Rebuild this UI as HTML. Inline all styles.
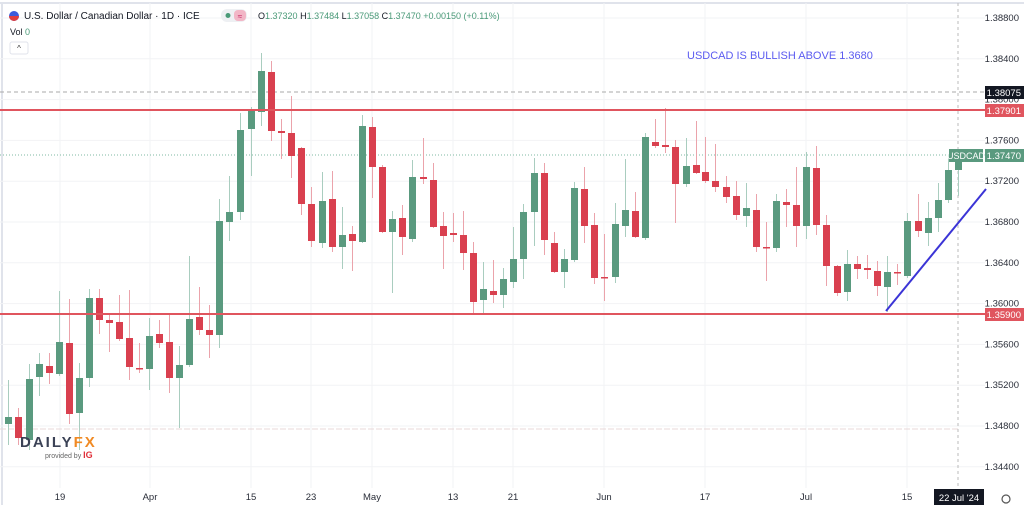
<!DOCTYPE html>
<html><head><meta charset="utf-8"><style>
html,body{margin:0;padding:0;background:#fff;}
body{width:1024px;height:505px;overflow:hidden;font-family:"Liberation Sans",sans-serif;}
</style></head><body>
<svg id="s" width="1024" height="505" xmlns="http://www.w3.org/2000/svg" font-family="Liberation Sans, sans-serif">
<rect width="1024" height="505" fill="#fff"/>
<line x1="0" y1="3" x2="1024" y2="3" stroke="#e0e3eb" stroke-width="2"/>
<line x1="2" y1="3" x2="2" y2="505" stroke="#e0e3eb" stroke-width="2"/>
<g id="grid" stroke="#f2f3f5" stroke-width="1"></g>
<g id="lbl" font-size="9.5" fill="#2a2e39"></g>
<line x1="0" y1="429" x2="960" y2="429" stroke="#e8d8d8" stroke-width="1" stroke-dasharray="6,2"/>
<line x1="0" y1="92" x2="985" y2="92" stroke="#aaa" stroke-width="1" stroke-dasharray="4,3"/>
<line x1="0" y1="155" x2="985" y2="155" stroke="#7fb9a3" stroke-width="1" stroke-dasharray="1,2"/>
<line x1="958" y1="3" x2="958" y2="490" stroke="#bbb" stroke-width="1" stroke-dasharray="3,3"/>
<g id="c"></g>
<line x1="0" y1="110" x2="985" y2="110" stroke="#e0555e" stroke-width="2"/>
<line x1="0" y1="314" x2="985" y2="314" stroke="#e0555e" stroke-width="2"/>
<line x1="886" y1="311" x2="986" y2="189" stroke="#3b34d6" stroke-width="2"/>
<text x="687" y="59" font-size="11" fill="#5b5bf0">USDCAD IS BULLISH ABOVE 1.3680</text>
<rect x="985" y="86" width="39" height="13" fill="#131722"/><text x="1021" y="96" font-size="9.5" fill="#fff" text-anchor="end">1.38075</text>
<rect x="985" y="104" width="39" height="13" fill="#e0555e"/><text x="1021" y="114" font-size="9.5" fill="#fff" text-anchor="end">1.37901</text>
<rect x="949" y="149" width="34" height="13" fill="#5a9a7f"/><text x="966" y="159" font-size="9" fill="#fff" text-anchor="middle">USDCAD</text>
<rect x="985" y="149" width="39" height="13" fill="#5a9a7f"/><text x="1021" y="159" font-size="9.5" fill="#fff" text-anchor="end">1.37470</text>
<rect x="985" y="308" width="39" height="13" fill="#e0555e"/><text x="1021" y="318" font-size="9.5" fill="#fff" text-anchor="end">1.35900</text>
<rect x="934" y="489" width="50" height="16" fill="#131722"/><text x="959" y="501" font-size="9.5" fill="#fff" text-anchor="middle">22 Jul '24</text>
<circle cx="1006" cy="499" r="4" fill="none" stroke="#555" stroke-width="1.2"/>
<circle cx="14" cy="16" r="5" fill="#3b5bdb"/><path d="M9 16 a5 5 0 0 0 10 0z" fill="#e03e3e"/>
<text x="24" y="19" font-size="10" fill="#131722">U.S. Dollar / Canadian Dollar · 1D · ICE</text>
<rect x="221" y="9" width="26" height="13" rx="6" fill="#eef0f3"/><circle cx="228" cy="15.5" r="2.5" fill="#4a9a78"/><rect x="234" y="10" width="12" height="11" rx="4" fill="#f2b6c6"/><text x="240" y="19" font-size="8" fill="#c2185b" text-anchor="middle">≈</text>
<text x="258" y="19" font-size="9" fill="#131722">O<tspan fill="#4a9a78">1.37320</tspan> H<tspan fill="#4a9a78">1.37484</tspan> L<tspan fill="#4a9a78">1.37058</tspan> C<tspan fill="#4a9a78">1.37470</tspan> <tspan fill="#4a9a78">+0.00150 (+0.11%)</tspan></text>
<text x="10" y="35" font-size="9" fill="#131722">Vol <tspan fill="#4a9a78">0</tspan></text>
<rect x="10" y="42" width="18" height="12" rx="2" fill="#fff" stroke="#e0e3eb"/><text x="19" y="51" font-size="8" fill="#333" text-anchor="middle">^</text>
<text x="20" y="447" font-size="15" font-weight="bold" fill="#3b4256" letter-spacing="2">DAILY<tspan fill="#f08a24">FX</tspan></text>
<text x="45" y="458" font-size="7" fill="#666">provided by <tspan fill="#e0303a" font-weight="bold" font-size="9">IG</tspan></text>
</svg>
<script>
var ns="http://www.w3.org/2000/svg";
function el(p,t,a){var e=document.createElementNS(ns,t);for(var k in a)e.setAttribute(k,a[k]);p.appendChild(e);return e;}
var g=document.getElementById('grid'),L=document.getElementById('lbl');
var prices=["1.38800","1.38400","1.38000","1.37600","1.37200","1.36800","1.36400","1.36000","1.35600","1.35200","1.34800","1.34400"];
prices.forEach(function(p,i){var y=18+i*40.8;el(g,'line',{x1:0,y1:y,x2:985,y2:y});
 var t=el(L,'text',{x:1019,y:y+3,'text-anchor':'end'});t.textContent=p;});
var xs=[[60,"19"],[150,"Apr"],[251,"15"],[311,"23"],[372,"May"],[453,"13"],[513,"21"],[604,"Jun"],[705,"17"],[806,"Jul"],[907,"15"]];
xs.forEach(function(a){el(g,'line',{x1:a[0],y1:3,x2:a[0],y2:488});var t=el(L,'text',{x:a[0],y:500,'text-anchor':'middle'});t.textContent=a[1];});
var C=[[8,424,417,380,445],[18,417,438,408,445],[29,440,379,364,450],[39,377,364,353,396],[49,366,373,353,384],[59,374,342,291,376],[69,343,414,299,424],[79,413,378,363,450],[89,378,298,289,387],[99,298,320,289,334],[109,320,323,315,352],[119,322,339,295,341],[129,338,367,290,380],[139,368,369,343,373],[149,369,336,318,390],[159,334,343,320,348],[169,342,378,314,393],[179,378,365,346,428],[189,365,319,256,367],[199,317,330,287,335],[209,330,335,305,358],[219,335,221,199,348],[229,222,212,176,241],[240,212,130,113,220],[251,129,110,107,176],[261,112,71,53,126],[271,72,131,61,141],[281,131,133,119,159],[291,133,156,96,178],[301,148,204,147,215],[311,204,241,187,247],[322,243,201,172,248],[332,199,247,171,252],[342,247,235,207,269],[352,234,241,226,271],[362,242,126,115,243],[372,127,167,117,198],[382,167,232,165,233],[392,232,219,211,293],[402,218,237,205,255],[412,239,177,160,242],[423,177,179,138,184],[433,180,227,163,228],[443,226,236,212,269],[453,233,235,213,242],[463,235,253,211,270],[473,253,302,242,313],[483,300,289,262,313],[493,291,295,260,303],[503,295,279,268,308],[513,282,259,227,288],[523,259,212,204,279],[534,212,173,158,246],[544,173,240,163,255],[554,243,272,232,273],[564,272,259,249,288],[574,260,188,182,262],[584,189,226,167,243],[594,225,278,213,284],[604,277,278,234,301],[615,277,224,203,283],[625,226,210,159,237],[635,211,237,192,238],[645,238,137,133,240],[655,142,146,119,148],[665,145,147,108,153],[675,147,184,140,223],[686,184,166,138,187],[696,165,173,121,174],[705,172,181,137,183],[715,181,187,144,192],[726,187,197,176,203],[736,196,215,181,220],[746,216,208,183,227],[756,210,247,194,252],[766,247,248,222,281],[776,248,201,194,252],[786,202,205,189,227],[796,205,226,167,247],[806,226,167,152,239],[816,168,225,146,235],[826,225,266,215,286],[837,266,293,265,296],[847,292,264,250,301],[857,264,269,256,279],[867,268,270,255,279],[877,271,286,261,296],[887,287,272,256,312],[897,272,273,264,285],[907,276,221,213,278],[918,221,231,194,237],[928,233,218,202,246],[938,218,200,183,232],[948,200,170,155,203],[958,170,155,154,196]];
var cg=document.getElementById('c');
C.forEach(function(d){var up=d[2]<d[1];var col=up?"#5a9a7f":"#d9404f";var wc=up?"#a9cdbf":"#eba3ab";
 el(cg,'line',{x1:d[0]+.5,y1:d[3],x2:d[0]+.5,y2:d[4],stroke:wc,'stroke-width':1});
 var t=Math.min(d[1],d[2]),h=Math.max(1.5,Math.abs(d[1]-d[2]));
 el(cg,'rect',{x:d[0]-3,y:t,width:7,height:h,fill:col});});
</script>
</body></html>
